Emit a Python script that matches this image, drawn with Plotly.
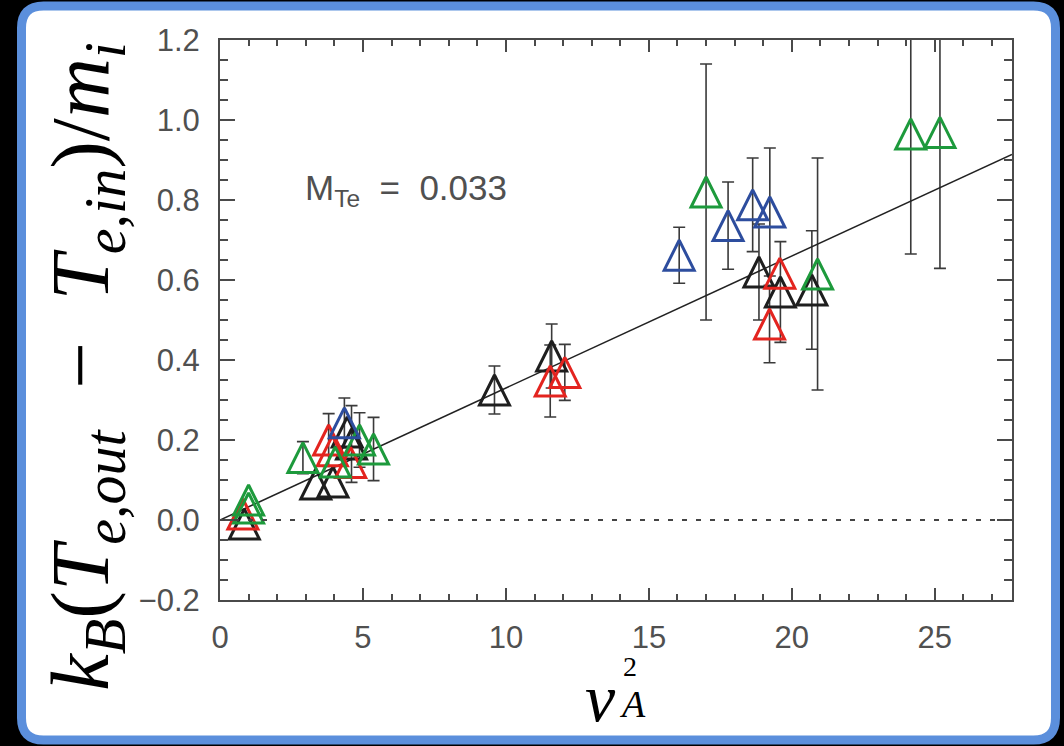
import plotly.graph_objects as go

# ---------------- data ----------------
M_TE = 0.033
X_RANGE = [0, 27.7]
Y_RANGE = [-0.2, 1.2]

black_x = [0.85, 3.35, 3.95, 4.45, 4.6, 9.6, 11.6, 18.85, 19.6, 20.7]
black_y = [-0.01, 0.09, 0.095, 0.22, 0.19, 0.325, 0.41, 0.62, 0.57, 0.575]
black_err = [None, None, None, None, 0.096, 0.06, 0.08, 0.12, 0.126, 0.148]

red_x = [0.8, 3.8, 3.93, 4.57, 11.55, 12.06, 19.58, 19.22]
red_y = [0.015, 0.2, 0.173, 0.144, 0.3475, 0.369, 0.617, 0.49]
red_err = [None, 0.066, None, None, 0.09, 0.07, None, 0.097]

green_x = [1.0, 1.0, 2.9, 4.03, 4.88, 5.37, 17.0, 20.9, 24.16, 25.18]
green_y = [0.05, 0.03, 0.156, 0.145, 0.2, 0.1775, 0.82, 0.615, 0.965, 0.969]
green_err = [None, None, 0.04, None, 0.068, 0.079, 0.32, 0.29, 0.30, 0.34]

blue_x = [4.35, 16.06, 17.77, 18.63, 19.23]
blue_y = [0.243, 0.662, 0.736, 0.788, 0.77]
blue_err = [0.062, 0.07, 0.109, 0.117, 0.16]

series = [
    ("black", black_x, black_y, black_err, "#1e1e1e"),
    ("red", red_x, red_y, red_err, "#e3241f"),
    ("green", green_x, green_y, green_err, "#1d9a3c"),
    ("blue", blue_x, blue_y, blue_err, "#2d4d9e"),
]

# ---------------- layout geometry ----------------
W, H = 1064, 746
ML, MR, MT, MB = 220, 52, 40, 146
PW, PH = W - ML - MR, H - MT - MB
MSIZE = 30
NB = "\u00a0"


def px(x):
    return (x - ML) / PW


def py(y):
    return (H - MB - y) / PH


fig = go.Figure()

# error bars (drawn first)
for name, xs, ys, errs, col in series:
    ex = [x for x, e in zip(xs, errs) if e is not None]
    ey = [y for y, e in zip(ys, errs) if e is not None]
    ee = [e for e in errs if e is not None]
    fig.add_trace(go.Scatter(
        x=ex, y=ey, mode="markers",
        marker=dict(size=2, opacity=0),
        error_y=dict(type="data", array=ee, visible=True, color="#3a3a3a",
                     thickness=1.6, width=6),
        showlegend=False, hoverinfo="skip", cliponaxis=True))

# fit line
fig.add_trace(go.Scatter(
    x=X_RANGE, y=[M_TE * X_RANGE[0], M_TE * X_RANGE[1]], mode="lines",
    line=dict(color="#222222", width=1.5), showlegend=False, hoverinfo="skip"))

# open triangles: arrow shape flipped upward, centred on the data point
for name, xs, ys, errs, col in series:
    fig.add_trace(go.Scatter(
        x=xs, y=ys, mode="markers", name=name,
        marker=dict(symbol="arrow-down-open", angle=180, size=MSIZE, color=col,
                    line=dict(color=col, width=3), standoff=MSIZE / 2),
        showlegend=False, cliponaxis=False))

# white rounded panel with blue border
x0, x1, y0, y1, r = 21.5, 1055.5, 6, 740, 22
path = (f"M {px(x0+r)},{py(y0)} L {px(x1-r)},{py(y0)} Q {px(x1)},{py(y0)} {px(x1)},{py(y0+r)} "
        f"L {px(x1)},{py(y1-r)} Q {px(x1)},{py(y1)} {px(x1-r)},{py(y1)} "
        f"L {px(x0+r)},{py(y1)} Q {px(x0)},{py(y1)} {px(x0)},{py(y1-r)} "
        f"L {px(x0)},{py(y0+r)} Q {px(x0)},{py(y0)} {px(x0+r)},{py(y0)} Z")
shapes = [
    dict(type="path", xref="paper", yref="paper", path=path,
         fillcolor="white", line=dict(color="#5b8fdc", width=9), layer="below"),
    dict(type="line", xref="paper", yref="y", x0=0, x1=1, y0=0, y1=0,
         line=dict(color="#444444", width=2, dash="5px,9px"), layer="above"),
]

tickfont = dict(family="Liberation Sans, Arial, sans-serif", size=31, color="#505050")
axis_common = dict(showline=True, linecolor="#4a4a4a", linewidth=2, mirror="ticks",
                   ticks="inside", tickcolor="#4a4a4a", tickwidth=2,
                   showgrid=False, zeroline=False, tickfont=tickfont)

ytitle = (f"<i>k</i><sub><i>B</i></sub>(<i>T</i><sub><i>e,out</i></sub>{NB}{NB}−{NB}{NB}"
          f"<i>T</i><sub><i>e,in</i></sub>)/<i>m</i><sub><i>i</i></sub>")

fig.update_layout(
    width=W, height=H,
    margin=dict(l=ML, r=MR, t=MT, b=MB, pad=0),
    paper_bgcolor="black", plot_bgcolor="white",
    shapes=shapes,
    xaxis=dict(range=X_RANGE, tickmode="linear", tick0=0, dtick=5, ticklen=12,
               minor=dict(dtick=1, ticklen=6, ticks="inside", tickcolor="#4a4a4a", tickwidth=2),
               ticklabelstandoff=9, **axis_common),
    yaxis=dict(range=Y_RANGE, tickmode="linear", tick0=0, dtick=0.2, ticklen=15,
               tickformat=".1f",
               minor=dict(dtick=0.05, ticklen=8, ticks="inside", tickcolor="#4a4a4a", tickwidth=2),
               ticklabelstandoff=12, **axis_common),
    annotations=[
        dict(text=f"M<sub>Te</sub>{NB}{NB}={NB}{NB}0.033", xref="paper", yref="paper",
             x=px(303), y=py(190), xanchor="left", yanchor="middle", showarrow=False,
             font=dict(family="Liberation Sans, Arial, sans-serif", size=35, color="#505050")),
        dict(text=ytitle,
             xref="paper", yref="paper", x=px(86), y=py(367), textangle=-90,
             xanchor="center", yanchor="middle", showarrow=False,
             font=dict(family="Liberation Serif, serif", size=83, color="black")),
        dict(text="<i>v</i>", xref="paper", yref="paper", x=px(600), y=py(698),
             xanchor="center", yanchor="middle", showarrow=False,
             font=dict(family="Liberation Serif, serif", size=68, color="black")),
        dict(text="2", xref="paper", yref="paper", x=px(630), y=py(666),
             xanchor="center", yanchor="middle", showarrow=False,
             font=dict(family="Liberation Serif, serif", size=28, color="black")),
        dict(text="<i>A</i>", xref="paper", yref="paper", x=px(632), y=py(704),
             xanchor="center", yanchor="middle", showarrow=False,
             font=dict(family="Liberation Serif, serif", size=38, color="black")),
    ],
)

fig.write_html("out.html")
